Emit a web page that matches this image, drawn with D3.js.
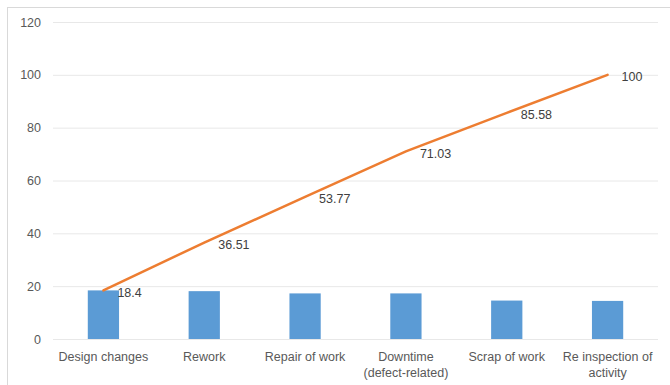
<!DOCTYPE html>
<html>
<head>
<meta charset="utf-8">
<script src="https://cdn.jsdelivr.net/npm/d3@7/dist/d3.min.js"></script>
<style>
  html, body { margin: 0; padding: 0; background: #fff; }
  svg { display: block; font-family: "Liberation Sans", Arial, sans-serif; }
</style>
</head>
<body>
<svg id="chart" width="670" height="385"></svg>
<script>
// Cost-of-poor-quality categories with their share (%) and cumulative share (%)
const categories = [
  ["Design changes"],
  ["Rework"],
  ["Repair of work"],
  ["Downtime", "(defect-related)"],
  ["Scrap of work"],
  ["Re inspection of", "activity"]
];
const shares = [18.4, 18.11, 17.26, 17.26, 14.55, 14.42];
const cumulative = [18.4, 36.51, 53.77, 71.03, 85.58, 100];
const yTicks = [0, 20, 40, 60, 80, 100, 120];

const svg = d3.select("#chart");
const margin = { left: 53, right: 12, top: 22, bottom: 46 };
const W = 670, H = 385;

// chart frame
svg.append("rect")
  .attr("x", 7.5).attr("y", 7.5)
  .attr("width", 700).attr("height", 400)
  .attr("fill", "none").attr("stroke", "#d9d9d9").attr("stroke-width", 1);

const x = d3.scaleBand()
  .domain(d3.range(categories.length))
  .range([margin.left, W - margin.right])
  .paddingInner(0.69).paddingOuter(0.345);

const band = d3.scaleBand()
  .domain(d3.range(categories.length))
  .range([margin.left, W - margin.right]);

const y = d3.scaleLinear().domain([0, 120]).range([H - margin.bottom, margin.top]);

// horizontal gridlines + y tick labels
const yAxis = d3.axisLeft(y).tickValues(yTicks)
  .tickSize(-(W - margin.right - margin.left)).tickPadding(12);
const gy = svg.append("g").attr("transform", `translate(${margin.left},0)`).call(yAxis);
gy.select(".domain").remove();
gy.selectAll(".tick line").attr("stroke", "#e8e8e8").attr("stroke-width", 1);
gy.selectAll(".tick text").attr("fill", "#595959").style("font-size", "12.5px");

// bars
svg.append("g").selectAll("rect").data(shares).join("rect")
  .attr("x", (d, i) => x(i))
  .attr("width", x.bandwidth())
  .attr("y", d => y(d))
  .attr("height", d => y(0) - y(d))
  .attr("fill", "#5b9bd5");

// cumulative line
const cx = i => band(i) + band.bandwidth() / 2;
svg.append("path")
  .datum(cumulative)
  .attr("fill", "none")
  .attr("stroke", "#ed7d31")
  .attr("stroke-width", 2.5)
  .attr("stroke-linecap", "round")
  .attr("d", d3.line().x((d, i) => cx(i)).y(d => y(d)));

// cumulative value labels
svg.append("g").selectAll("text").data(cumulative).join("text")
  .attr("x", (d, i) => cx(i) + 14)
  .attr("y", d => y(d) + 2)
  .attr("dy", "0.35em")
  .attr("fill", "#404040")
  .style("font-size", "12.5px")
  .text(d => d);

// category labels
const xl = svg.append("g").selectAll("text").data(categories).join("text")
  .attr("x", (d, i) => cx(i))
  .attr("y", H - margin.bottom + 18)
  .attr("dy", "0.35em")
  .attr("text-anchor", "middle")
  .attr("fill", "#595959")
  .style("font-size", "12.5px");
xl.selectAll("tspan").data(d => d).join("tspan")
  .attr("x", function () { return d3.select(this.parentNode).attr("x"); })
  .attr("dy", (d, j) => j === 0 ? "0.35em" : "16px")
  .text(d => d);
</script>
</body>
</html>
